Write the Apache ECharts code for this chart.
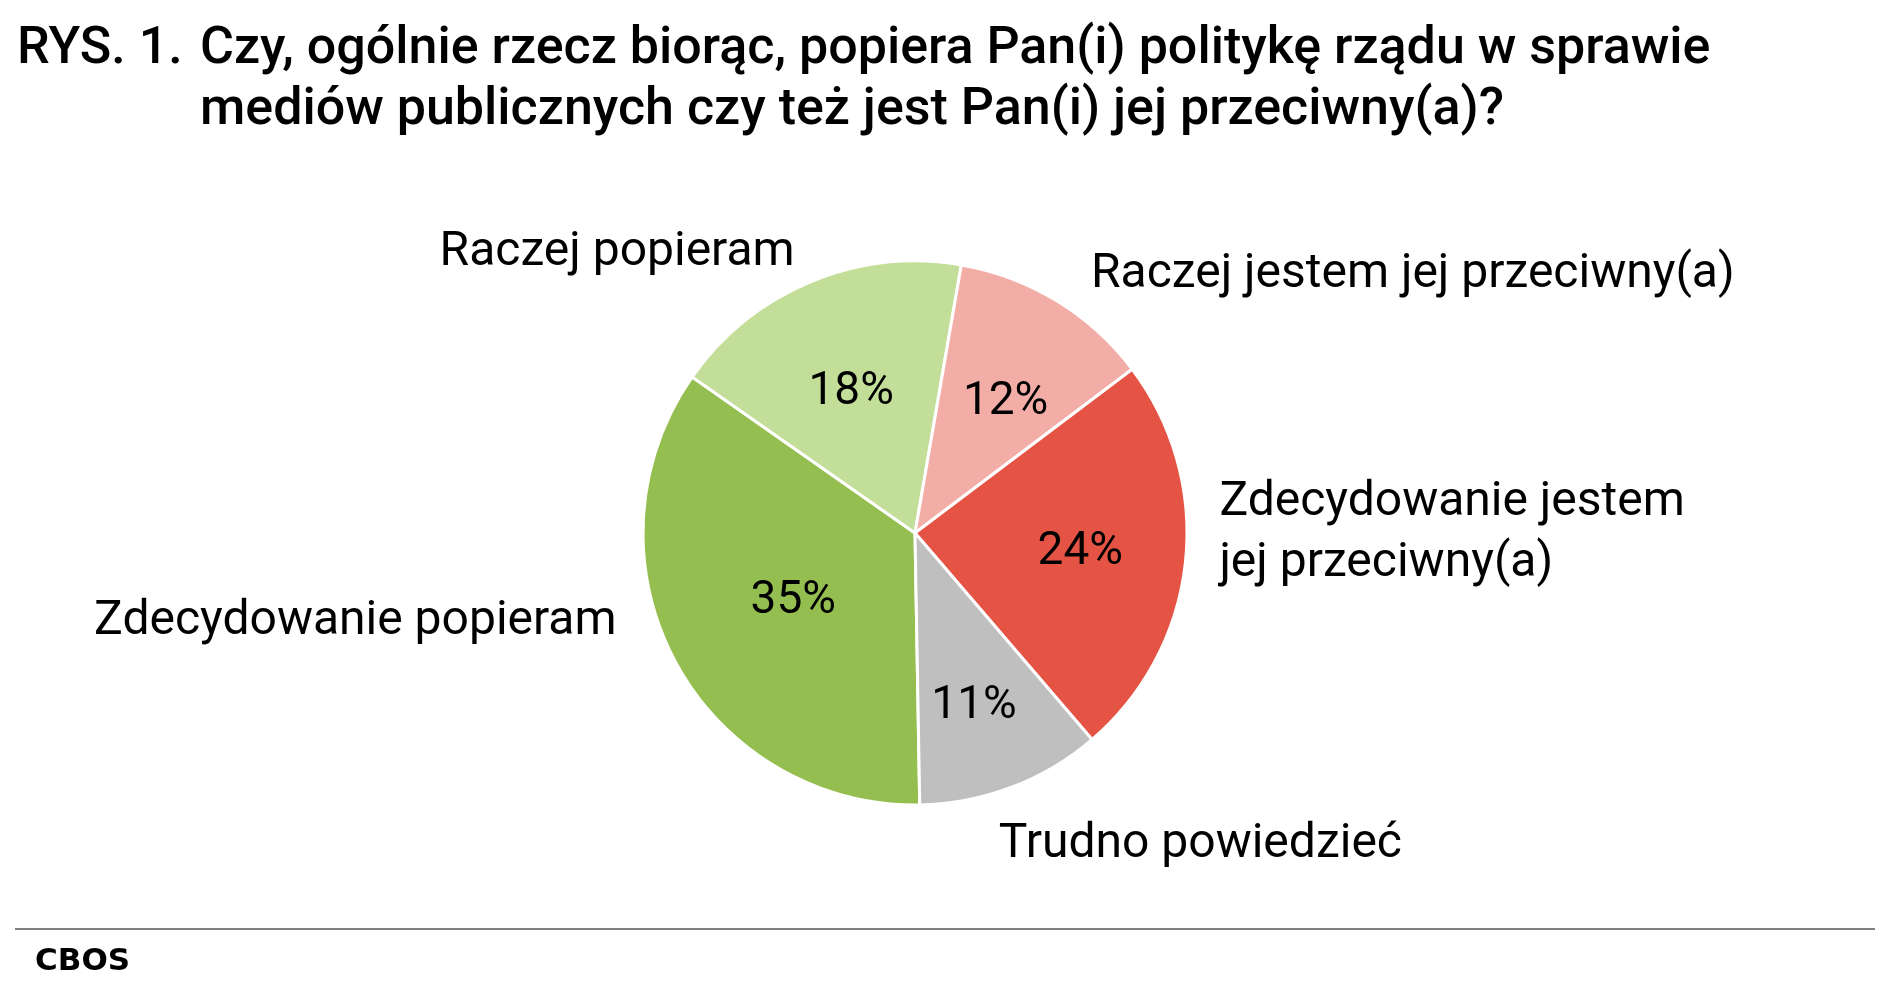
<!DOCTYPE html>
<html>
<head>
<meta charset="utf-8">
<title>RYS. 1.</title>
<script src="https://cdn.jsdelivr.net/npm/echarts@6/dist/echarts.min.js"></script>
<style>
  html, body { margin: 0; padding: 0; background: #fff; }
  #piechart { width: 1890px; height: 992px; }
</style>
</head>
<body>
<div id="piechart"></div>
<script>
var categories = [
    'Zdecydowanie popieram',
    'Raczej popieram',
    'Raczej jestem jej przeciwny(a)',
    'Zdecydowanie jestem\njej przeciwny(a)',
    'Trudno powiedzieć'
];
var values = [35, 18, 12, 24, 11];
var sliceColors = ['#94BF50', '#C3DE98', '#F3ADA7', '#E55344', '#BFBFBF'];

var myChart = echarts.init(document.getElementById('piechart'));

var pieCenter = [915, 533];
var pieRadius = 272;

// outside labels placed by hand, roughly like Excel's "best fit"
var outerLine = [
    { length: -88, length2: 131, dy: 3 },
    { length: 36, length2: -3, dy: 4 },
    { length: 35, length2: 11, dy: 4 },
    { length: 4, length2: 25, dy: -29 },
    { length: 57, length2: -38, dy: 4 }
];
// small shifts of the percentage labels
var innerShift = [
    { dx: 25, dy: -10 },
    { dx: 0, dy: 13 },
    { dx: 4, dy: 11 },
    { dx: 0, dy: 2 },
    { dx: 0, dy: 18 }
];

var mainData = categories.map(function(name, i) {
    return {
        name: name,
        value: values[i],
        itemStyle: { color: sliceColors[i] },
        labelLine: { show: false, length: outerLine[i].length, length2: outerLine[i].length2 }
    };
});

var pctData = categories.map(function(name, i) {
    return { name: name, value: values[i] };
});

var titleStyle = { fontFamily: 'Roboto', fontSize: 52, fontWeight: 500, color: '#000', lineHeight: 61 };

var option = {
    animation: false,
    backgroundColor: '#fff',
    title: [{
        text: 'RYS. 1.',
        left: 17,
        top: 19,
        padding: 0,
        textStyle: titleStyle
    }, {
        text: 'Czy, ogólnie rzecz biorąc, popiera Pan(i) politykę rządu w sprawie\nmediów publicznych czy też jest Pan(i) jej przeciwny(a)?',
        left: 200,
        top: 19,
        padding: 0,
        textStyle: titleStyle
    }],
    graphic: [{
        type: 'line',
        shape: { x1: 15, y1: 929, x2: 1875, y2: 929 },
        style: { stroke: '#7f7f7f', lineWidth: 2 }
    }, {
        type: 'text',
        left: 35,
        top: 946,
        style: { text: 'CBOS', font: 'bold 31px "DejaVu Sans"', fill: '#000' }
    }],
    series: [{
        name: 'Odpowiedzi',
        type: 'pie',
        center: pieCenter,
        radius: pieRadius,
        startAngle: -89,
        clockwise: true,
        avoidLabelOverlap: false,
        silent: true,
        itemStyle: { borderColor: '#fff', borderWidth: 3 },
        label: {
            position: 'outside',
            formatter: '{b}',
            fontFamily: 'Roboto',
            fontSize: 48,
            lineHeight: 61,
            color: '#000'
        },
        labelLine: { show: false },
        labelLayout: function(params) {
            return { dy: outerLine[params.dataIndex].dy };
        },
        emphasis: { disabled: true },
        data: mainData
    }, {
        // invisible copy, only to carry the percentage labels a bit further out
        name: 'Procenty',
        type: 'pie',
        center: pieCenter,
        radius: pieRadius * 1.2,
        startAngle: -89,
        clockwise: true,
        silent: true,
        z: 3,
        itemStyle: { color: 'rgba(0,0,0,0)', borderWidth: 0 },
        label: {
            position: 'inside',
            formatter: '{c}%',
            fontFamily: 'Roboto',
            fontSize: 46,
            color: '#000'
        },
        labelLine: { show: false },
        labelLayout: function(params) {
            return { dx: innerShift[params.dataIndex].dx, dy: innerShift[params.dataIndex].dy };
        },
        emphasis: { disabled: true },
        data: pctData
    }]
};

myChart.setOption(option);
</script>
</body>
</html>
